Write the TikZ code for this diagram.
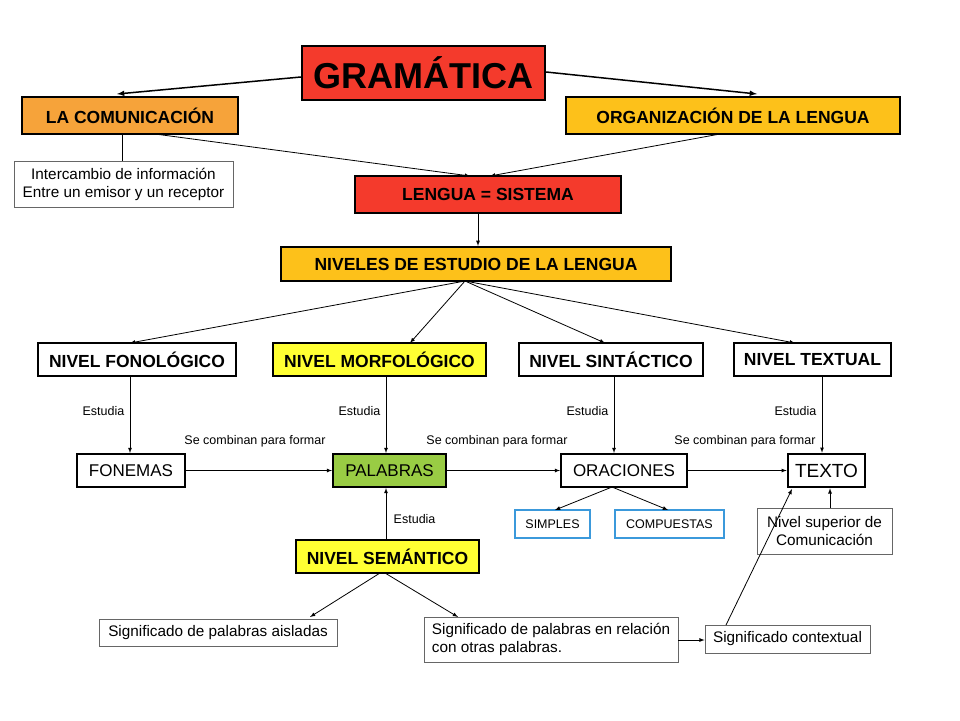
\documentclass[tikz,border=0pt]{standalone}
\usepackage{fontspec}
\setmainfont{Liberation Sans}
\begin{document}
\begin{tikzpicture}[x=1pt,y=-1pt,
 box/.style={draw,line width=2.2pt,font=\bfseries\fontsize{17.5}{19}\selectfont,inner sep=0pt},
 nbox/.style={draw,line width=2pt,font=\fontsize{17}{19}\selectfont,inner sep=0pt},
 tbox/.style={draw=gray!80!black,line width=0.8pt,font=\fontsize{15.3}{18}\selectfont,align=center,inner sep=0pt},
 cbox/.style={draw=cyan!70!blue!80,line width=1.5pt,font=\fontsize{12.5}{14}\selectfont,inner sep=0pt},
 arr/.style={-latex,line width=0.8pt},
 lab/.style={font=\fontsize{12.5}{14}\selectfont}]
\useasboundingbox (0,0) rectangle (960,720);
\definecolor{gred}{HTML}{F43A2C}
\definecolor{gorange}{HTML}{F6A33A}
\definecolor{gyel}{HTML}{FDC11A}
\definecolor{nyel}{HTML}{FFFF33}
\definecolor{ggreen}{HTML}{99CC44}
\node[box,fill=gred,minimum width=243,minimum height=54,font=\bfseries\fontsize{36}{38}\selectfont] (gram) at (423.5,73) {GRAMÁTICA};
\node[box,fill=gorange,minimum width=216,minimum height=37] (com) at (130,115.5) {LA COMUNICACIÓN};
\node[box,fill=gyel,minimum width=334,minimum height=37] (org) at (733,115.5) {ORGANIZACIÓN DE LA LENGUA};
\node[tbox,minimum width=219,minimum height=46] (int) at (123.5,184) {Intercambio de información\\Entre un emisor y un receptor};
\node[box,fill=gred,minimum width=266,minimum height=37] (len) at (488,194.5) {LENGUA = SISTEMA};
\node[box,fill=gyel,minimum width=390,minimum height=34] (niv) at (476,264) {NIVELES DE ESTUDIO DE LA LENGUA};
\node[box,fill=white,minimum width=198,minimum height=33] (fon) at (137,359.5) {NIVEL FONOLÓGICO};
\node[box,fill=nyel,minimum width=213,minimum height=33] (mor) at (379.5,359.5) {NIVEL MORFOLÓGICO};
\node[box,fill=white,minimum width=184,minimum height=33] (sin) at (611,359.5) {NIVEL SINTÁCTICO};
\node[box,fill=white,minimum width=157,minimum height=33] (tex) at (812.5,359.5) {NIVEL TEXTUAL};
\node[nbox,minimum width=108,minimum height=33] (fone) at (131,470.5) {FONEMAS};
\node[nbox,fill=ggreen,minimum width=113,minimum height=33] (pal) at (389.5,470.5) {PALABRAS};
\node[nbox,minimum width=126,minimum height=33] (ora) at (624,470.5) {ORACIONES};
\node[nbox,line width=2.6pt,minimum width=77,minimum height=33,font=\fontsize{19}{21}\selectfont] (txt) at (826.5,470.5) {TEXTO};
\node[cbox,minimum width=75,minimum height=28] (sim) at (552.5,524) {SIMPLES};
\node[cbox,minimum width=109,minimum height=28] (cmp) at (669.5,524) {COMPUESTAS};
\node[tbox,minimum width=135,minimum height=46] (sup) at (824.5,531) {Nivel superior de\\Comunicación};
\node[box,fill=nyel,minimum width=183,minimum height=33] (sem) at (387.5,556.5) {NIVEL SEMÁNTICO};
\node[tbox,minimum width=238,minimum height=27] (ais) at (218,632.5) {Significado de palabras aisladas};
\node[tbox,minimum width=254,minimum height=45,align=left] (rel) at (551,639.5) {Significado de palabras en relación\\con otras palabras.};
\node[tbox,minimum width=165,minimum height=28] (ctx) at (787.5,639) {Significado contextual};
\coordinate (txtc) at (792,489);
% arrows
\draw[arr,line width=1.5pt] (gram.west|-0,77) -- (117,94);
\draw[arr,line width=1.5pt] (gram.east|-0,72) -- (757,94);
\draw[arr] (155,134) -- (470,176);
\draw[arr] (720,134) -- (490,176);
\draw[line width=0.8pt] (122,134) -- (int.north-|122,0);
\draw[arr] (len.south-|478,0) -- (niv.north-|478,0);
\draw[arr] (465,281) -- (130,343);
\draw[arr] (465,281) -- (410,343);
\draw[arr] (465,281) -- (605,343);
\draw[arr] (465,281) -- (795,343);
\draw[arr] (fon.south-|130,0) -- node[lab,pos=0.45,left=2pt]{Estudia} (fone.north-|130,0);
\draw[arr] (mor.south-|386,0) -- node[lab,pos=0.45,left=2pt]{Estudia} (pal.north-|386,0);
\draw[arr] (sin.south-|614,0) -- node[lab,pos=0.45,left=2pt]{Estudia} (ora.north-|614,0);
\draw[arr] (tex.south-|822,0) -- node[lab,pos=0.45,left=2pt]{Estudia} (txt.north-|822,0);
\node[lab] (l1) at (255,441) {Se combinan para formar};
\node[lab] (l2) at (497,441) {Se combinan para formar};
\node[lab] (l3) at (745,441) {Se combinan para formar};
\draw[arr] (fone) -- (pal);
\draw[arr] (pal) -- (ora);
\draw[arr] (ora) -- (txt);
\draw[arr] (612,487) -- (555,510);
\draw[arr] (612,487) -- (668,510);
\draw[arr] (sem.north-|386,0) -- node[lab,pos=0.4,right=4pt]{Estudia} (pal.south-|386,0);
\draw[arr] (380,573) -- (310,617);
\draw[arr] (385,573) -- (458,617);
\draw[arr] (rel.east|-0,640) -- (ctx.west|-0,640);
\draw[arr] (726,625) -- (txtc);
\draw[arr] (sup.north-|830,0) -- (txt.south-|830,0);
\end{tikzpicture}
\end{document}
